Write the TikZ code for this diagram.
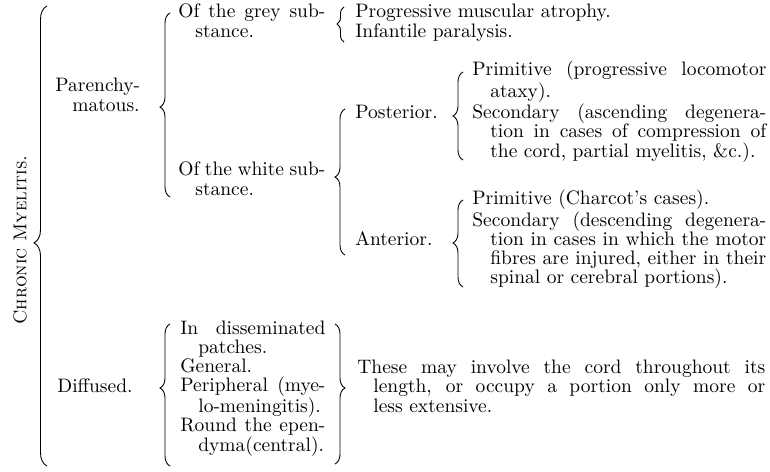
\documentclass[tikz,border=0pt]{standalone}
\usepackage{fontspec}
\usetikzlibrary{decorations.pathreplacing}
\begin{document}
\begin{tikzpicture}[x=1pt,y=-1pt,
  txt/.style={anchor=base west, inner sep=0pt, align=left, scale=1.95, transform shape,
    font=\fontsize{10}{9.8}\selectfont\addfontfeature{FakeBold=0.6}},
  brc/.style 2 args={decorate, decoration={brace, amplitude=#1, aspect=#2}, line width=0.9pt},
]
\useasboundingbox (0,0) rectangle (770,471);
% title
\node[rotate=90, inner sep=0pt, scale=1.85, transform shape,
  font=\fontsize{10}{10}\selectfont\addfontfeature{LetterSpace=6,FakeBold=0.8}] (chronic) at (20,240)
  {\textsc{Chronic Myelitis.}};
% braces
\draw[brc={13pt}{0.485}] (47,466) -- (47,6);
\draw[brc={10pt}{0.489}] (170,197) -- (170,13);
\draw[brc={7pt}{0.514}] (344,42) -- (344,7);
\draw[brc={10pt}{0.534}] (345,255) -- (345,109);
\draw[brc={10pt}{0.5}] (463,160) -- (463,72);
\draw[brc={10pt}{0.506}] (463,287) -- (463,200);
\draw[brc={10pt}{0.549}] (170,466) -- (170,324);
\draw[brc={10pt}{0.457}] (335,324) -- (335,464);
% texts (anchored at the baseline of the last line)
\node[txt] (paren) at (55,111) {Parenchy-\\\hspace*{8.7pt}matous.};
\node[txt] (grey) at (178,37) {\makebox[75.4pt][s]{Of the grey sub-}\\\hspace*{8.7pt}stance.};
\node[txt] (greyitems) at (355,37) {Progressive muscular atrophy.\\Infantile paralysis.};
\node[txt] (white) at (178,195) {\makebox[75.4pt][s]{Of the white sub-}\\\hspace*{8.7pt}stance.};
\node[txt] (post) at (355,118) {Posterior.};
\node[txt] (postitems) at (472,157) {\makebox[150.8pt][s]{Primitive (progressive locomotor}\\
  \hspace*{9.2pt}ataxy).\\
  \makebox[150.8pt][s]{Secondary (ascending degenera-}\\
  \hspace*{9.2pt}\makebox[141.5pt][s]{tion in cases of compression of}\\
  \hspace*{9.2pt}the cord, partial myelitis, \&c.).};
\node[txt] (ant) at (355,245) {Anterior.};
\node[txt] (antitems) at (472,283.4) {Primitive (Charcot’s cases).\\
  \makebox[150.8pt][s]{Secondary (descending degenera-}\\
  \hspace*{9.2pt}\makebox[141.5pt][s]{tion in cases in which the motor}\\
  \hspace*{9.2pt}\makebox[141.5pt][s]{fibres are injured, either in their}\\
  \hspace*{9.2pt}spinal or cerebral portions).};
\node[txt] (diff) at (57,392) {Diffused.};
\node[txt] (diffitems) at (180,451) {\makebox[74.4pt][s]{In disseminated}\\
  \hspace*{9.2pt}patches.\\
  General.\\
  \makebox[74.4pt][s]{Peripheral (mye-}\\
  \hspace*{9.2pt}lo-meningitis).\\
  \makebox[74.4pt][s]{Round the epen-}\\
  \hspace*{9.2pt}dyma(central).};
\node[txt] (these) at (357,412) {\makebox[209.2pt][s]{These may involve the cord throughout its}\\
  \hspace*{8.2pt}\makebox[201pt][s]{length, or occupy a portion only more or}\\
  \hspace*{8.2pt}less extensive.};
\end{tikzpicture}
\end{document}
